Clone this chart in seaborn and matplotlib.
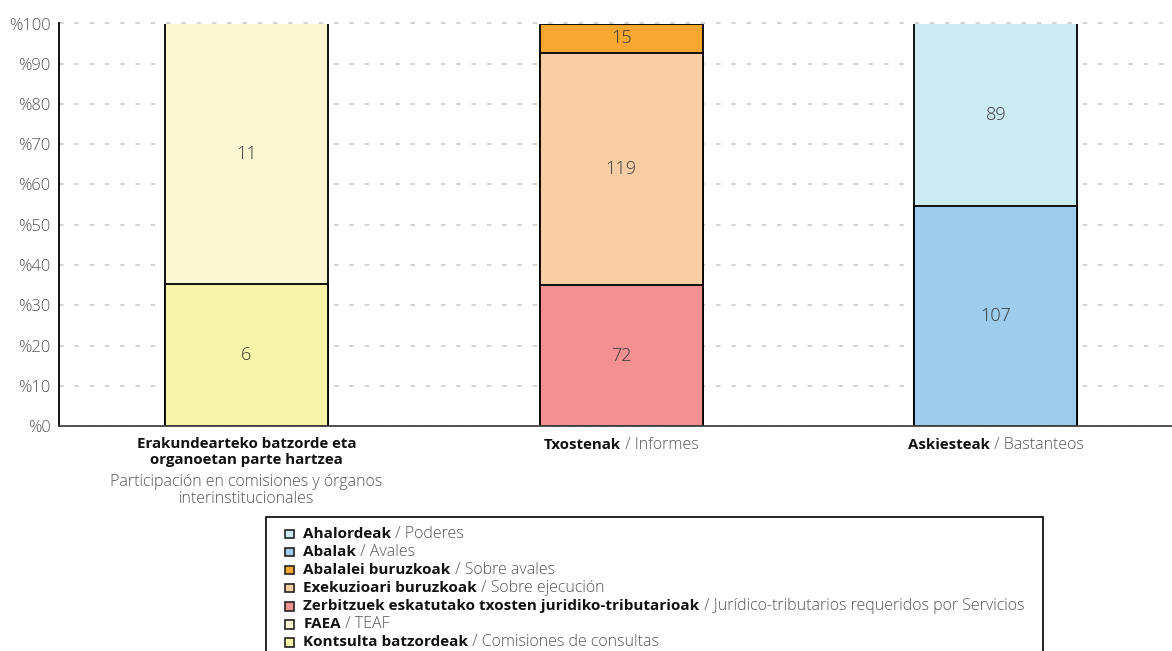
import matplotlib
matplotlib.use("Agg")
import matplotlib.pyplot as plt
import seaborn as sns
import pandas as pd
from matplotlib.offsetbox import TextArea, HPacker, VPacker, DrawingArea, AnchoredOffsetbox, AnnotationBbox
from matplotlib.patches import Rectangle

# ---------------- data ----------------
categories = ["Erakundearteko", "Txostenak", "Askiesteak"]
cat_bold = ["Erakundearteko batzorde eta\norganoetan parte hartzea", "Txostenak", "Askiesteak"]
cat_light = ["Participación en comisiones y órganos\ninterinstitucionales", " / Informes", " / Bastanteos"]

series_eu = ["Ahalordeak", "Abalak", "Abalalei buruzkoak", "Exekuzioari buruzkoak",
             "Zerbitzuek eskatutako txosten juridiko-tributarioak", "FAEA", "Kontsulta batzordeak"]
series_es = ["Poderes", "Avales", "Sobre avales", "Sobre ejecución",
             "Jurídico-tributarios requeridos por Servicios", "TEAF", "Comisiones de consultas"]
series_cat = ["Askiesteak", "Askiesteak", "Txostenak", "Txostenak", "Txostenak",
              "Erakundearteko", "Erakundearteko"]
series_values = [89, 107, 15, 119, 72, 11, 6]
series_colors = ["#CDEBF3", "#9DCCEC", "#F7A72F", "#FACEA4", "#F39192", "#FAF7D2", "#F6F4A8"]

yticks = [0, 10, 20, 30, 40, 50, 60, 70, 80, 90, 100]
ytick_labels = ["%" + str(v) for v in yticks]

# ---------------- table ----------------
df = pd.DataFrame({"cat": series_cat, "eu": series_eu, "es": series_es,
                   "value": series_values, "color": series_colors})
totals = df.groupby("cat")["value"].sum()
df["pct"] = df["value"] / df["cat"].map(totals) * 100
# stacking: legend order is top->bottom, so accumulate in reverse
df["cum"] = 0.0
acc = {c: 0.0 for c in categories}
for i in reversed(df.index):
    c = df.at[i, "cat"]
    acc[c] += df.at[i, "pct"]
    df.at[i, "cum"] = acc[c]
df["mid"] = df["cum"] - df["pct"] / 2

# ---------------- style ----------------
sns.set_style("white")
plt.rcParams["font.family"] = ["Open Sans", "DejaVu Sans"]

W, H = 1172, 651
fig = plt.figure(figsize=(W / 100, H / 100), dpi=100)
ax = fig.add_axes([59 / W, 1 - 426 / H, 1 - 59 / W, (426 - 23.5) / H])

for i in df.sort_values("cum", ascending=False).index:
    sns.barplot(data=df.loc[[i]], x="cat", y="cum", order=categories,
                color=df.at[i, "color"], saturation=1, width=0.435,
                edgecolor="black", linewidth=1.3, errorbar=None, ax=ax)

for i in df.index:
    ax.text(categories.index(df.at[i, "cat"]), df.at[i, "mid"], str(df.at[i, "value"]),
            ha="center", va="center", fontsize=13, fontweight="light", color="#3a3a3a")

ax.set_xlim(-0.5, 2.47)
ax.set_ylim(0, 100)
ax.set_yticks(yticks)
ax.set_yticklabels(ytick_labels)
ax.set_xticks([0.5, 1.5])
ax.set_xticklabels([])
ax.set_xlabel("")
ax.set_ylabel("")
ax.tick_params(axis="y", length=4, width=1.2, color="black", labelcolor="#555555",
               labelsize=12, pad=2)
for t in ax.get_yticklabels():
    t.set_fontweight("light")
ax.tick_params(axis="x", length=5, width=1.2, color="#333333", direction="out")
ax.yaxis.grid(True, linestyle=(0, (3, 7)), color="#c8c8c8", linewidth=1.1)
for gl in ax.get_ygridlines():
    gl.set_clip_on(False)
ax.set_axisbelow(True)
for s in ["top", "right"]:
    ax.spines[s].set_visible(False)
ax.spines["left"].set_color("black")
ax.spines["left"].set_linewidth(1.3)
ax.spines["bottom"].set_color("#444444")
ax.spines["bottom"].set_linewidth(1.3)

# ---------------- category labels ----------------
bold_props = dict(fontsize=10.8, fontweight="bold", color="#111111")
light_props = dict(fontsize=11.5, fontweight="light", color="#555555")
for k, c in enumerate(categories):
    if "\n" in cat_bold[k]:
        box = VPacker(children=[TextArea(cat_bold[k], textprops=dict(multialignment="center", **bold_props)),
                                TextArea(cat_light[k], textprops=dict(multialignment="center", linespacing=1.1, **light_props))],
                      align="center", sep=5, pad=0)
    else:
        box = HPacker(children=[TextArea(cat_bold[k], textprops=bold_props),
                                TextArea(cat_light[k], textprops=light_props)],
                      align="baseline", sep=0, pad=0)
    ab = AnnotationBbox(box, (k, 0), xycoords=("data", "axes fraction"),
                        xybox=(0, -8), boxcoords="offset points",
                        box_alignment=(0.5, 1), frameon=False, annotation_clip=False)
    ax.add_artist(ab)

# ---------------- legend ----------------
rows = []
for i in df.index:
    da = DrawingArea(8, 8, 0, 0)
    da.add_artist(Rectangle((1, 1), 6, 6, facecolor=df.at[i, "color"], edgecolor="#222222", linewidth=1.2))
    txt = HPacker(children=[TextArea(df.at[i, "eu"], textprops=dict(fontsize=11, fontweight="bold", color="#111111")),
                            TextArea(" / " + df.at[i, "es"], textprops=dict(fontsize=11.5, fontweight="light", color="#555555"))],
                  align="baseline", sep=0, pad=0)
    rows.append(HPacker(children=[da, txt], align="center", sep=6, pad=0))
legend_box = VPacker(children=rows, align="left", sep=1.5, pad=0)
anch = AnchoredOffsetbox(loc="upper left", child=legend_box, pad=0, borderpad=0, frameon=False,
                         bbox_to_anchor=(284 / W, 1 - 526 / H), bbox_transform=fig.transFigure)
fig.add_artist(anch)
fig.add_artist(Rectangle((266 / W, -0.05), (1043 - 266) / W, (651 - 517) / H + 0.05,
                         transform=fig.transFigure, fill=False, edgecolor="black", linewidth=1.2))

fig.savefig("out.png", dpi=100)
